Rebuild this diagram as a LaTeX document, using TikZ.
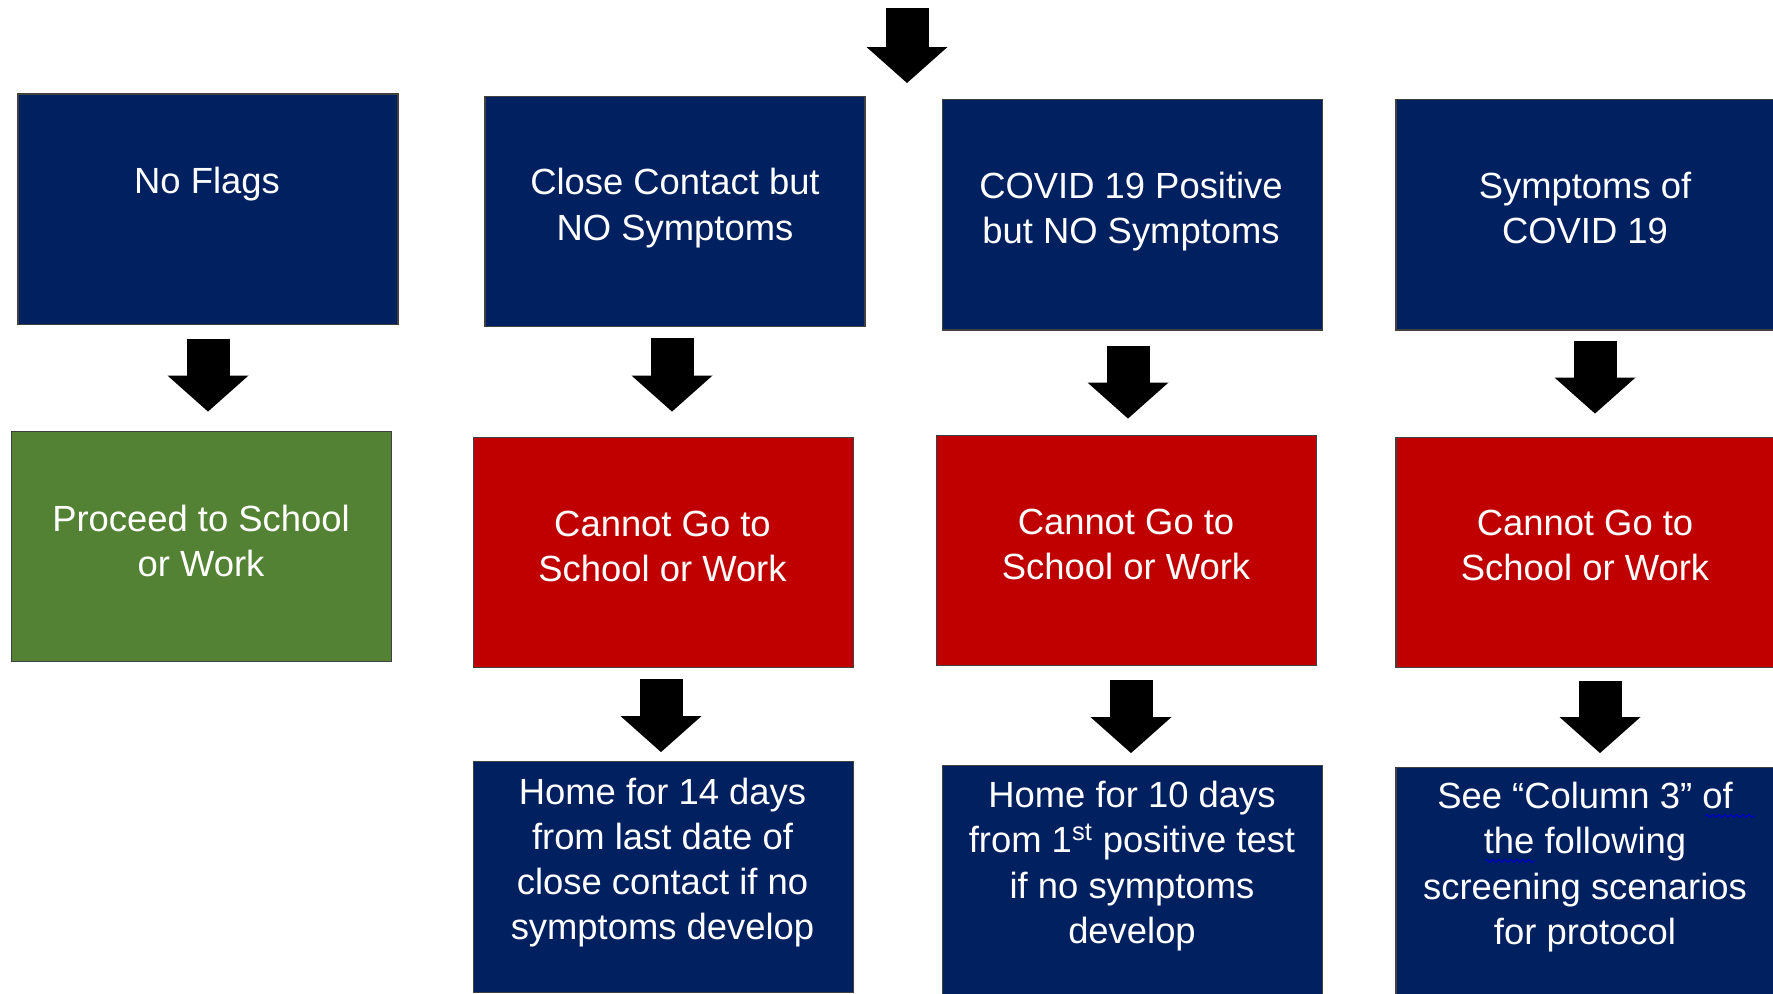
\documentclass[tikz,border=0pt]{standalone}
\usepackage{fontspec}
\setmainfont{Liberation Sans}
\usetikzlibrary{arrows.meta,decorations.pathmorphing}
\definecolor{navy}{HTML}{002060}
\definecolor{darkred}{HTML}{C00000}
\definecolor{grn}{HTML}{548235}
\begin{document}
\begin{tikzpicture}[x=0.5pt,y=-0.5pt,
  box/.style={draw=black!75, line width=0.7pt, minimum width=190pt, minimum height=115.25pt, inner sep=0pt},
  bluebox/.style={box, fill=navy},
  redbox/.style={box, fill=darkred},
  greenbox/.style={box, fill=grn},
  txt/.style={text=white, align=center, font=\fontsize{18.2pt}{22.6pt}\selectfont, inner sep=0pt},
  blk/.style={line width=21.5pt, -{Triangle[width=40.5pt,length=18pt,line width=0pt]}},
  wavy/.style={draw=blue!80!black, line width=0.5pt, decorate, decoration={snake, amplitude=0.8pt, segment length=3pt}}
]
\useasboundingbox (0,0) rectangle (1773,993);
\clip (0,0) rectangle (1773,993);
\fill[white] (0,0) rectangle (1773,993);

% boxes
\node[bluebox] (nf) at (208,209.25) {};
\node[bluebox] (cc) at (675,211.5) {};
\node[bluebox] (cp) at (1132.5,214.75) {};
\node[bluebox] (sy) at (1586,214.75) {};
\node[greenbox] (pr) at (201.5,546.5) {};
\node[redbox] (r2) at (663.5,552.5) {};
\node[redbox] (r3) at (1126.5,550.5) {};
\node[redbox] (r4) at (1586,552.5) {};
\node[bluebox] (h2) at (663.5,877) {};
\node[bluebox] (h3) at (1132.5,880.5) {};
\node[bluebox] (h4) at (1586,883) {};

% texts
\node[txt] (tnf) at (207,184.5) {No Flags};
\node[txt] (tcc) at (675,208) {Close Contact but\\NO Symptoms};
\node[txt] (tcp) at (1131,211.5) {COVID 19 Positive\\but NO Symptoms};
\node[txt] (tsy) at (1585,208) {Symptoms of\\COVID 19};
\node[txt] (tpr) at (201,541) {Proceed to School\\or Work};
\node[txt] (tr2) at (662.5,546.5) {Cannot Go to\\School or Work};
\node[txt] (tr3) at (1126,544.5) {Cannot Go to\\School or Work};
\node[txt] (tr4) at (1585,545.5) {Cannot Go to\\School or Work};
\node[txt] (th2) at (662.5,862.5) {Home for 14 days\\from last date of\\close contact if no\\symptoms develop};
\node[txt] (th3) at (1132,866) {Home for 10 days\\from 1\textsuperscript{st} positive test\\if no symptoms\\develop};
\node[txt] (th4) at (1585,867) {See “Column 3” of\\the following\\screening scenarios\\for protocol};

% spell-check marks
\draw[wavy] (1705,816) -- (1755,816);
\draw[wavy] (1485,861) -- (1535,861);

% arrow x positions
\coordinate (x1) at (208,0);
\coordinate (x2) at (672,0);
\coordinate (x3) at (1128,0);
\coordinate (x4) at (1595,0);
\coordinate (x5) at (661,0);
\coordinate (x6) at (1131,0);
\coordinate (x7) at (1600,0);
\coordinate (topA) at (907,8);
\coordinate (topB) at (907,83);

% arrows
\draw[blk] (topA) -- (topB);
\draw[blk, shorten <=6.75pt, shorten >=9.5pt] (nf.south -| x1) -- (pr.north -| x1);
\draw[blk, shorten <=5.5pt, shorten >=12.5pt] (cc.south -| x2) -- (r2.north -| x2);
\draw[blk, shorten <=7.5pt, shorten >=8pt] (cp.south -| x3) -- (r3.north -| x3);
\draw[blk, shorten <=5pt, shorten >=11.5pt] (sy.south -| x4) -- (r4.north -| x4);
\draw[blk, shorten <=5.5pt, shorten >=4.5pt] (r2.south -| x5) -- (h2.north -| x5);
\draw[blk, shorten <=7pt, shorten >=5.75pt] (r3.south -| x6) -- (h3.north -| x6);
\draw[blk, shorten <=6.5pt, shorten >=7pt] (r4.south -| x7) -- (h4.north -| x7);
\end{tikzpicture}
\end{document}
